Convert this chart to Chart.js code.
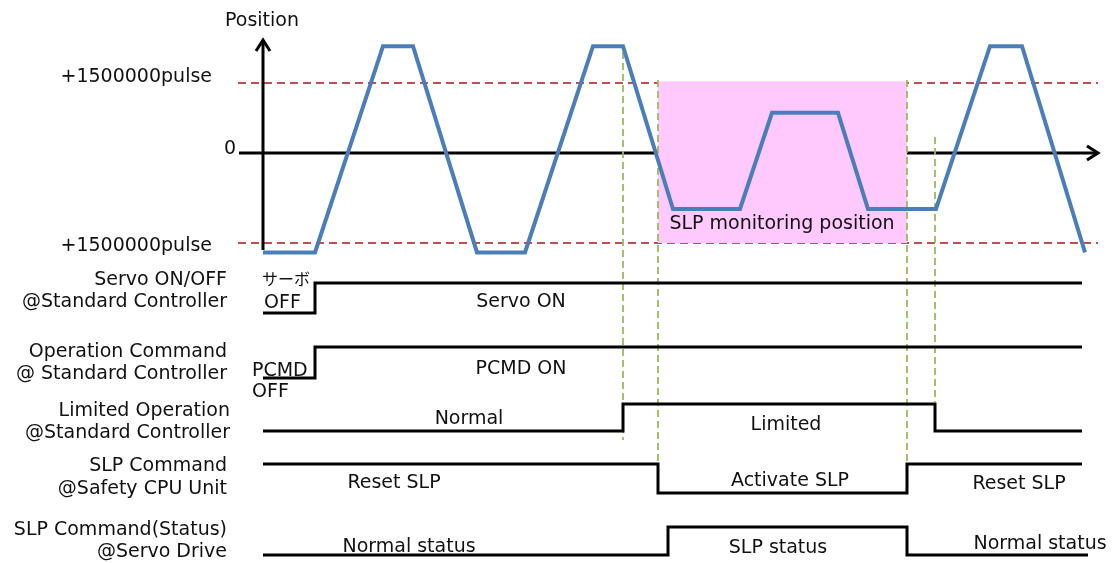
<!DOCTYPE html>
<html>
<head>
<meta charset="utf-8">
<script src="https://cdn.jsdelivr.net/npm/chart.js@4/dist/chart.umd.min.js"></script>
<style>
  body { margin: 0; background: #fff; }
  #diagram { display: block; }
</style>
</head>
<body>
<canvas id="diagram" width="1120" height="563"></canvas>
<script>
// time in ms, position in pulses (schematic)
const posTime = [0, 52, 120, 150, 214, 262, 330, 360, 410, 477, 509, 575, 605, 673, 727, 759, 822];
const posPulse = [-2130000, -2130000, 2290000, 2290000, -2130000, -2130000, 2290000, 2290000,
  -1200000, -1200000, 860000, 860000, -1200000, -1200000, 2290000, 2290000, -2130000];

const limitPulses = [1500000, -1930000];
const monitorWindow = [395, 644];
const monitorPulses = [1540000, -1930000];

// digital signals: time of each point and level (0 = low, 1 = high)
const servoTime = [0, 52, 819];
const servoLevel = [0, 1, 1];
const pcmdTime = [0, 52, 819];
const pcmdLevel = [0, 1, 1];
const limitedTime = [0, 360, 672, 819];
const limitedLevel = [0, 1, 0, 0];
const slpCmdTime = [0, 395, 644, 819];
const slpCmdLevel = [1, 0, 1, 1];
const slpStatusTime = [0, 405, 644, 825];
const slpStatusLevel = [0, 1, 0, 0];

const guideTimes = [360, 395, 644, 672];

// ---- layout (pixels) ----
const W = 1120, H = 563;
const ORIGIN_X = 263, ZERO_Y = 153;
const PULSE_PER_PX = 1500000 / 70;
const rows = {           // [low y, high y]
  servo: [313, 283],
  pcmd: [378, 347],
  limited: [431, 404],
  slpCmd: [493, 464],
  slpStatus: [555, 527]
};
const guideSpans = [[52, 440], [80, 463], [80, 468], [137, 402]];
const axisX = [-24, 835];
const axisY = [-2080000, 2420000];

const FONT = '"DejaVu Sans", Verdana, sans-serif';
const BLUE = '#4a7ebb';

function signalPoints(times, levels, row) {
  return times.map((t, i) => ({ x: t, y: row[0] - levels[i] * (row[0] - row[1]) }));
}

const datasets = [];

// red dashed limits
limitPulses.forEach(p => {
  datasets.push({
    data: [{ x: axisX[0] - 1, y: p }, { x: axisX[1], y: p }],
    yAxisID: 'yPos', borderColor: '#c0504d', borderWidth: 2, borderDash: [8, 5],
    order: 20
  });
});

// axes
datasets.push({
  data: [{ x: axisX[0], y: 0 }, { x: axisX[1], y: 0 }],
  yAxisID: 'yPos', borderColor: '#000', borderWidth: 3, order: 15
});
datasets.push({
  data: [{ x: 0, y: axisY[0] }, { x: 0, y: axisY[1] }],
  yAxisID: 'yPos', borderColor: '#000', borderWidth: 3, order: 15
});

// SLP monitoring area
datasets.push({
  data: [{ x: monitorWindow[0], y: monitorPulses[0] }, { x: monitorWindow[1], y: monitorPulses[0] }],
  yAxisID: 'yPos', borderWidth: 0, borderColor: 'rgba(0,0,0,0)',
  backgroundColor: '#ffc9fd', fill: { value: monitorPulses[1] }, order: 10
});

// green guides
guideTimes.forEach((t, i) => {
  datasets.push({
    data: [{ x: t, y: guideSpans[i][0] }, { x: t, y: guideSpans[i][1] }],
    yAxisID: 'yPx', borderColor: '#9bbb59', borderWidth: 1.8, borderDash: [7, 4], order: 5
  });
});

// position waveform
datasets.push({
  data: posTime.map((t, i) => ({ x: t, y: posPulse[i] })),
  yAxisID: 'yPos', borderColor: BLUE, borderWidth: 4, borderJoinStyle: 'miter', order: 2
});

// signals
[
  [servoTime, servoLevel, rows.servo],
  [pcmdTime, pcmdLevel, rows.pcmd],
  [limitedTime, limitedLevel, rows.limited],
  [slpCmdTime, slpCmdLevel, rows.slpCmd],
  [slpStatusTime, slpStatusLevel, rows.slpStatus]
].forEach(([t, l, r]) => {
  datasets.push({
    data: signalPoints(t, l, r), yAxisID: 'yPx', stepped: 'before',
    borderColor: '#000', borderWidth: 3, borderJoinStyle: 'miter', order: 1
  });
});

const texts = [
  ['Position', 262, 19, 'center'],
  ['+1500000pulse', 212, 75, 'right'],
  ['0', 230, 147, 'center'],
  ['+1500000pulse', 212, 244, 'right'],
  ['Servo ON/OFF', 227, 278, 'right'],
  ['@Standard Controller', 227, 300, 'right'],
  ['Operation Command', 227, 350, 'right'],
  ['@ Standard Controller', 227, 372, 'right'],
  ['Limited Operation', 230, 409, 'right'],
  ['@Standard Controller', 230, 431, 'right'],
  ['SLP Command', 227, 464, 'right'],
  ['@Safety CPU Unit', 227, 487, 'right'],
  ['SLP Command(Status)', 227, 528, 'right'],
  ['@Servo Drive', 227, 550, 'right'],
  ['OFF', 264, 301, 'left'],
  ['PCMD', 252, 369, 'left'],
  ['OFF', 252, 390, 'left'],
  ['Servo ON', 521, 300, 'center'],
  ['PCMD ON', 521, 367, 'center'],
  ['Normal', 469, 417, 'center'],
  ['Limited', 786, 423, 'center'],
  ['Reset SLP', 394, 481, 'center'],
  ['Activate SLP', 790, 479, 'center'],
  ['Reset SLP', 1019, 482, 'center'],
  ['Normal status', 409, 545, 'center'],
  ['SLP status', 778, 546, 'center'],
  ['Normal status', 1040, 542, 'center'],
  ['SLP monitoring position', 782, 222, 'center']
];

const diagramText = {
  id: 'diagramText',
  afterDatasetsDraw(chart) {
    const { ctx, scales } = chart;
    ctx.save();
    // arrow heads
    ctx.strokeStyle = '#000';
    ctx.lineWidth = 3;
    ctx.lineJoin = 'miter';
    const ax = scales.x.getPixelForValue(0);
    const ay = scales.yPos.getPixelForValue(axisY[1]);
    ctx.beginPath();
    ctx.moveTo(ax - 7, ay + 11);
    ctx.lineTo(ax, ay);
    ctx.lineTo(ax + 7, ay + 11);
    ctx.stroke();
    const hx = scales.x.getPixelForValue(axisX[1]);
    const hy = scales.yPos.getPixelForValue(0);
    ctx.beginPath();
    ctx.moveTo(hx - 11, hy - 7);
    ctx.lineTo(hx, hy);
    ctx.lineTo(hx - 11, hy + 7);
    ctx.stroke();

    ctx.fillStyle = '#111';
    ctx.textBaseline = 'middle';
    ctx.font = '19px ' + FONT;
    texts.forEach(([s, x, y, a]) => {
      ctx.textAlign = a;
      ctx.fillText(s, x, y + 2);
    });
    ctx.font = '16px "Noto Sans CJK JP", sans-serif';
    ctx.textAlign = 'left';
    ctx.fillText('サーボ', 262, 279);
    ctx.restore();
  }
};

new Chart(document.getElementById('diagram').getContext('2d'), {
  type: 'line',
  data: { datasets },
  plugins: [diagramText],
  options: {
    responsive: false,
    animation: false,
    devicePixelRatio: 1,
    layout: { padding: 0 },
    elements: { point: { radius: 0, hoverRadius: 0 }, line: { tension: 0, fill: false } },
    plugins: { legend: { display: false }, tooltip: { enabled: false } },
    scales: {
      x: { type: 'linear', display: false, min: -ORIGIN_X, max: W - ORIGIN_X },
      yPos: { type: 'linear', display: false, min: -(H - ZERO_Y) * PULSE_PER_PX, max: ZERO_Y * PULSE_PER_PX },
      yPx: { type: 'linear', display: false, reverse: true, min: 0, max: H }
    }
  }
});
</script>
</body>
</html>
